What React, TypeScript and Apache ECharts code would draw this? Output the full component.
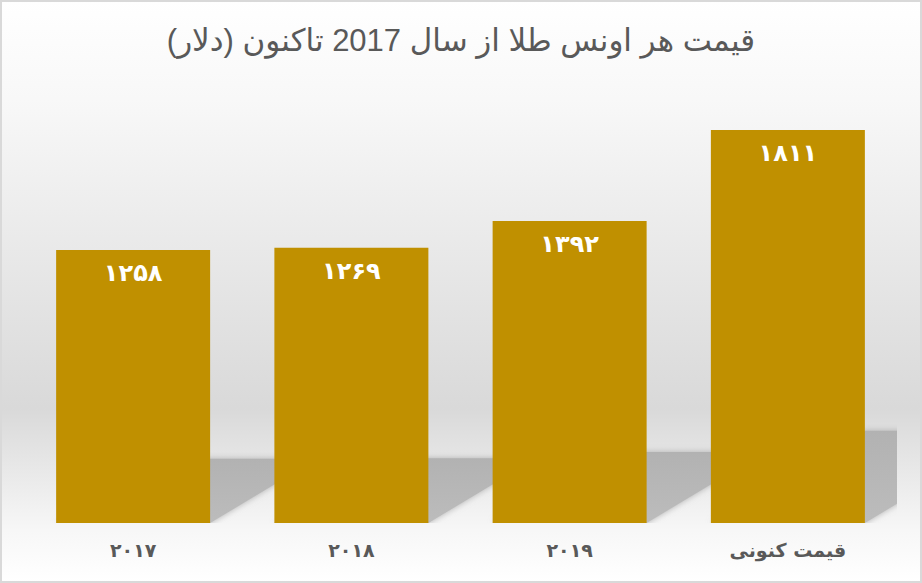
import React, { useEffect, useRef } from "react";
import * as echarts from "echarts";

const titleText = "قیمت هر اونس طلا از سال 2017 تاکنون (دلار)";
const categories = ["۲۰۱۷", "۲۰۱۸", "۲۰۱۹", "قیمت کنونی"];
const prices = [1258, 1269, 1392, 1811];
const yMax = 2000;

const persianDigits = "۰۱۲۳۴۵۶۷۸۹";
const toPersian = (n: number) =>
  String(n).replace(/[0-9]/g, (d) => persianDigits[Number(d)]);

const BAR_W = 154;
const SHADOW_RATIO = 0.235;
const SHADOW_SLOPE = 0.6;

export default function App() {
  const ref = useRef<HTMLDivElement>(null);
  useEffect(() => {
    document.body.style.margin = "0";
    if (!ref.current) return;
    const chart = echarts.init(ref.current, undefined, { renderer: "svg" });
    const option: any = {
      animation: false,
      textStyle: { fontFamily: "'Liberation Sans', 'DejaVu Sans', sans-serif" },
      title: {
        text: titleText,
        left: "center",
        top: 20,
        textStyle: {
          fontSize: 31,
          fontWeight: "normal",
          color: "#595959",
          fontFamily: "'Liberation Sans', 'DejaVu Sans', sans-serif",
        },
      },
      graphic: [
        {
          type: "rect",
          z: -100,
          silent: true,
          shape: { x: 0, y: 0, width: 922, height: 583 },
          style: {
            fill: new echarts.graphic.LinearGradient(0, 0, 0, 1, [
              { offset: 0, color: "#ffffff" },
              { offset: 0.17, color: "#f8f8f8" },
              { offset: 0.7, color: "#d9d9d9" },
              { offset: 0.91, color: "#f7f7f7" },
              { offset: 1, color: "#ffffff" },
            ]),
          },
        },
        {
          type: "rect",
          z: 100,
          silent: true,
          shape: { x: 1, y: 1, width: 920, height: 581 },
          style: { fill: "none", stroke: "#d9d9d9", lineWidth: 2 },
        },
      ],
      grid: { left: 24, right: 25, top: 89, bottom: 60 },
      xAxis: {
        type: "category",
        data: categories,
        axisLine: { show: false },
        axisTick: { show: false },
        axisLabel: {
          margin: 17,
          fontSize: 19,
          fontWeight: "bold",
          color: "#595959",
          fontFamily: "'DejaVu Sans', sans-serif",
        },
      },
      yAxis: {
        type: "value",
        min: 0,
        max: yMax,
        show: false,
        splitLine: { show: false },
      },
      series: [
        {
          type: "custom",
          z: 1,
          clip: true,
          silent: true,
          data: prices.map((v, i) => [i, v]),
          renderItem: (params: any, api: any) => {
            const idx = api.value(0);
            const val = api.value(1);
            const base = api.coord([idx, 0]);
            const topPt = api.coord([idx, val * SHADOW_RATIO]);
            const h = base[1] - topPt[1];
            const dx = h / SHADOW_SLOPE;
            const l = base[0] - BAR_W / 2;
            const r = base[0] + BAR_W / 2;
            const y0 = base[1];
            return {
              type: "polygon",
              shape: {
                points: [
                  [l, y0],
                  [r, y0],
                  [r + dx, y0 - h],
                  [l + dx, y0 - h],
                ],
              },
              style: {
                fill: new echarts.graphic.LinearGradient(0, 0, 0, 1, [
                  { offset: 0, color: "#b2b2b2" },
                  { offset: 1, color: "#bcbcbc" },
                ]),
                shadowBlur: 6,
                shadowColor: "rgba(170,170,170,0.9)",
              },
            };
          },
        },
        {
          type: "bar",
          z: 2,
          data: prices,
          barWidth: BAR_W,
          itemStyle: { color: "#C09000" },
          label: {
            show: true,
            position: "insideTop",
            distance: 11,
            formatter: (p: any) => toPersian(p.value),
            color: "#ffffff",
            fontSize: 24,
            fontWeight: "bold",
            fontFamily: "'DejaVu Sans', sans-serif",
          },
        },
      ],
    };
    chart.setOption(option);
    return () => chart.dispose();
  }, []);
  return <div ref={ref} style={{ width: 922, height: 583 }} />;
}
